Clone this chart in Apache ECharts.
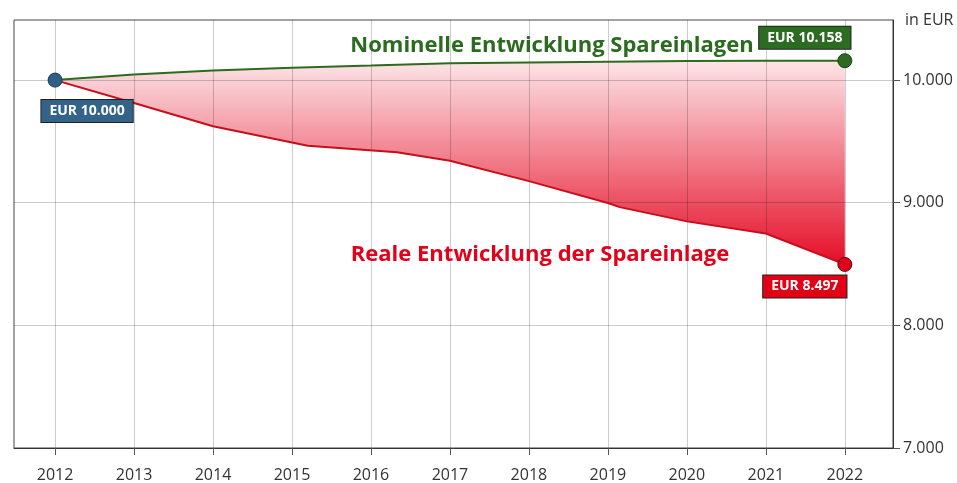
<!DOCTYPE html>
<html>
<head>
<meta charset="utf-8">
<script src="https://cdn.jsdelivr.net/npm/echarts@6/dist/echarts.min.js"></script>
<style>
  html, body { margin: 0; padding: 0; background: #fff; }
  #chart { width: 957px; height: 483px; }
</style>
</head>
<body>
<div id="chart"></div>
<script>
// Jahre auf der x-Achse
var years = [2012, 2013, 2014, 2015, 2016, 2017, 2018, 2019, 2020, 2021, 2022];
// nominelle Entwicklung (je Jahr)
var nominal = [10000, 10046, 10079, 10101, 10119, 10138, 10144, 10150, 10155, 10157, 10158];
// reale Entwicklung - Knickpunkte liegen nicht immer auf Jahresgrenzen
var realYears = [2012, 2013, 2014, 2015.2, 2016.33, 2017, 2018, 2019, 2019.15, 2020, 2021, 2022];
var real = [10000, 9813, 9624, 9465, 9411, 9343, 9176, 8998, 8964, 8848, 8749, 8497];
// y-Achse
var yTicks = [7000, 8000, 9000, 10000];

var FONT = '"Open Sans", "Noto Sans", sans-serif';

// 10000 -> 10.000
function fmt(v) {
    return String(Math.round(v)).replace(/\B(?=(\d{3})+(?!\d))/g, '.');
}

function boxLabel(bg, offset) {
    return {
        show: true,
        position: 'inside',
        offset: offset,
        formatter: function (p) { return 'EUR ' + fmt(p.value[1]); },
        color: '#fff',
        fontFamily: FONT,
        fontWeight: 'bold',
        fontSize: 14,
        backgroundColor: bg,
        borderColor: '#222',
        borderWidth: 1,
        padding: [4, 8, 4, 8]
    };
}

var nominalData = years.map(function (y, i) {
    return { value: [y, nominal[i]] };
});
nominalData[0].symbol = 'circle';
nominalData[0].symbolSize = 14;
nominalData[0].itemStyle = { color: '#2f5f86', borderColor: '#1c3550', borderWidth: 1 };
nominalData[0].label = boxLabel('#346389', [32, 31]);
var nl = nominalData.length - 1;
nominalData[nl].symbol = 'circle';
nominalData[nl].symbolSize = 14;
nominalData[nl].itemStyle = { color: '#2e6b22', borderColor: '#1b3d14', borderWidth: 1 };
nominalData[nl].label = boxLabel('#2c6b22', [-40, -23]);

var realData = realYears.map(function (y, i) {
    return { value: [y, real[i]] };
});
var rl = realData.length - 1;
realData[rl].symbol = 'circle';
realData[rl].symbolSize = 14;
realData[rl].itemStyle = { color: '#e0001b', borderColor: '#4a1010', borderWidth: 1 };
realData[rl].label = boxLabel('#e10014', [-40, 22]);

var option = {
    animation: false,
    grid: {
        left: 14, right: 64, top: 20, bottom: 32,
        show: true,
        borderColor: '#444',
        borderWidth: 1
    },
    xAxis: {
        type: 'value',
        min: 2011.48,
        max: 2022.61,
        axisLine: { show: true, lineStyle: { color: '#333' } },
        axisTick: { show: true, length: 7, customValues: years, lineStyle: { color: '#555' } },
        axisLabel: {
            customValues: years,
            margin: 19,
            color: '#333',
            fontFamily: FONT,
            fontSize: 16,
            formatter: function (v) { return String(v); }
        },
        splitLine: { show: true, lineStyle: { color: 'rgba(0,0,0,0.2)' } }
    },
    yAxis: {
        type: 'value',
        position: 'right',
        min: 7000,
        max: 10490,
        name: 'in EUR',
        nameLocation: 'end',
        nameGap: 0,
        nameTextStyle: {
            align: 'left', verticalAlign: 'middle', padding: [0, 0, 0, 12],
            color: '#333', fontFamily: FONT, fontSize: 16
        },
        axisLine: { show: true, lineStyle: { color: '#333' } },
        axisTick: { show: true, length: 7, customValues: yTicks, lineStyle: { color: '#555' } },
        axisLabel: {
            customValues: yTicks,
            margin: 10,
            color: '#333',
            fontFamily: FONT,
            fontSize: 16,
            formatter: function (v) { return fmt(v); }
        },
        splitLine: { show: true, lineStyle: { color: 'rgba(0,0,0,0.2)' } }
    },
    graphic: [
        {
            type: 'text', x: 552, y: 46, z: 10,
            style: {
                text: 'Nominelle Entwicklung Spareinlagen',
                font: 'bold 22px ' + FONT, fill: '#2a6b1f',
                textAlign: 'center', textVerticalAlign: 'middle'
            }
        },
        {
            type: 'text', x: 540, y: 255, z: 10,
            style: {
                text: 'Reale Entwicklung der Spareinlage',
                font: 'bold 22px ' + FONT, fill: '#e3001b',
                textAlign: 'center', textVerticalAlign: 'middle'
            }
        }
    ],
    series: [
        {
            // Flaeche zwischen nominal und real
            type: 'custom',
            z: -1,
            silent: true,
            data: [[years[0], nominal[0]]],
            renderItem: function (params, api) {
                var pts = [];
                for (var i = 0; i < years.length; i++) pts.push(api.coord([years[i], nominal[i]]));
                for (var j = realYears.length - 1; j >= 0; j--) pts.push(api.coord([realYears[j], real[j]]));
                return {
                    type: 'polygon',
                    shape: { points: pts },
                    style: {
                        fill: new echarts.graphic.LinearGradient(0, 0, 0, 1, [
                            { offset: 0, color: 'rgba(228,0,27,0.10)' },
                            { offset: 1, color: 'rgba(228,0,27,0.95)' }
                        ])
                    }
                };
            }
        },
        {
            name: 'Nominal',
            type: 'line',
            symbol: 'none',
            showSymbol: true,
            data: nominalData,
            lineStyle: { color: '#2e6b1e', width: 2 },
            itemStyle: { color: '#2e6b1e' },
            emphasis: { disabled: true },
            z: 4
        },
        {
            name: 'Real',
            type: 'line',
            symbol: 'none',
            showSymbol: true,
            data: realData,
            lineStyle: { color: '#c4101c', width: 2 },
            itemStyle: { color: '#c4101c' },
            emphasis: { disabled: true },
            z: 3
        }
    ]
};

var chart = echarts.init(document.getElementById('chart'));
chart.setOption(option);
</script>
</body>
</html>
